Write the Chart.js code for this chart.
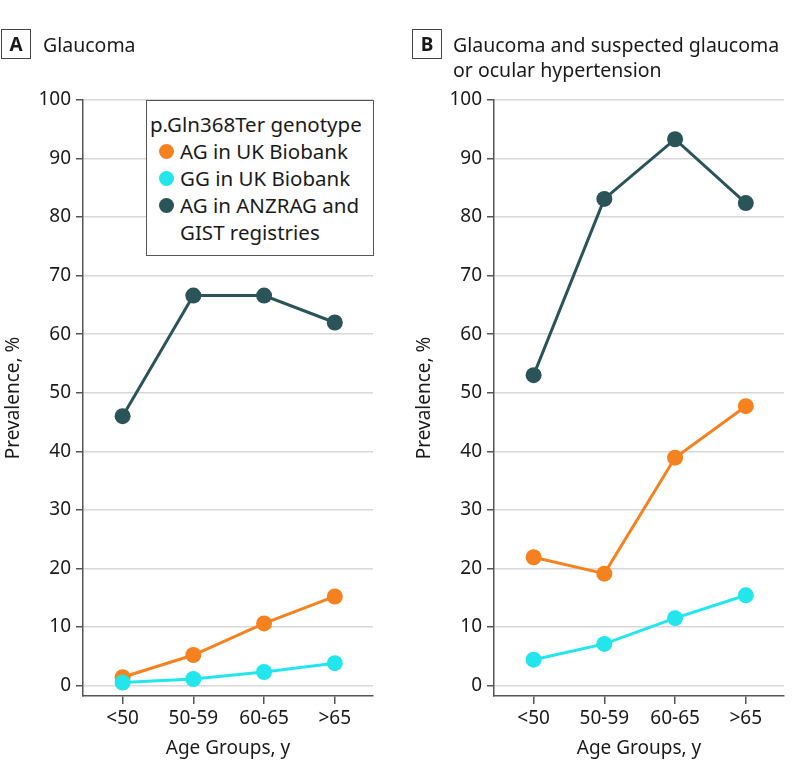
<!DOCTYPE html>
<html>
<head>
<meta charset="utf-8">
<script src="https://cdn.jsdelivr.net/npm/chart.js@4/dist/chart.umd.min.js"></script>
<style>
  body { margin: 0; background: #fff; font-family: 'Noto Sans', sans-serif; color: #1a1a1a; }
  #wrap { position: relative; width: 794px; height: 780px; }
  canvas { position: absolute; top: 0; }
  .tag { position: absolute; top: 29px; width: 28px; height: 28px; border: 1.5px solid #444;
         font-weight: bold; font-size: 19px; line-height: 28px; text-align: center; }
  .ttl { position: absolute; top: 32px; font-size: 19.5px; line-height: 25px; }
  #legend { position: absolute; left: 146px; top: 100px; width: 228px; height: 156px;
            border: 1.5px solid #555; background: #fff; font-size: 20.5px; line-height: 27px;
            padding: 10px 0 0 0; box-sizing: border-box; }
  #legend .hd { padding-left: 3px; }
  #legend .it { position: relative; padding-left: 33px; }
  #legend .it span { position: absolute; left: 12px; top: 6px; width: 15px; height: 15px; border-radius: 50%; }
</style>
</head>
<body>
<div id="wrap">
  <canvas id="cA" width="397" height="780" style="left:0"></canvas>
  <canvas id="cB" width="397" height="780" style="left:397px"></canvas>
  <div class="tag" style="left:1px">A</div>
  <div class="ttl" style="left:43px">Glaucoma</div>
  <div class="tag" style="left:412px">B</div>
  <div class="ttl" style="left:453px">Glaucoma and suspected glaucoma<br>or ocular hypertension</div>
  <div id="legend"></div>
</div>
<script>
// categories & ticks
const categories = ['<50', '50-59', '60-65', '>65'];
const yTicks = [0, 10, 20, 30, 40, 50, 60, 70, 80, 90, 100];

// series: p.Gln368Ter genotype
const seriesNames = ['AG in UK Biobank', 'GG in UK Biobank', 'AG in ANZRAG and GIST registries'];
const seriesColors = ['#F6821F', '#22E6EC', '#2B5459'];

// Panel A – Glaucoma
const glaucomaAgUk = [1.4, 5.2, 10.6, 15.2];
const glaucomaGgUk = [0.5, 1.1, 2.3, 3.8];
const glaucomaAgAnz = [46.0, 66.6, 66.6, 62.0];

// Panel B – Glaucoma and suspected glaucoma or ocular hypertension
const suspectAgUk = [21.9, 19.1, 38.9, 47.7];
const suspectGgUk = [4.4, 7.1, 11.5, 15.4];
const suspectAgAnz = [53.0, 83.1, 93.3, 82.4];

const FONT = "'Noto Sans', sans-serif";
const dark = '#555';

// legend (html)
const lg = document.getElementById('legend');
lg.innerHTML = '<div class="hd">p.Gln368Ter genotype</div>' + seriesNames.map((n, i) => {
    const txt = i === 2 ? 'AG in ANZRAG and<br>GIST registries' : n;
    return `<div class="it"><span style="background:${seriesColors[i]}"></span>${txt}</div>`;
}).join('');

function ds(vals, i) {
    return {
        label: seriesNames[i],
        data: vals.map((v, k) => ({ x: k, y: v })),
        borderColor: seriesColors[i],
        backgroundColor: seriesColors[i],
        borderWidth: 3,
        pointRadius: 8,
        pointHoverRadius: 8,
        pointBorderWidth: 0,
        order: [1, 0, 2][i],
    };
}

function build(id, sets, padL, axisW, padR) {
    return new Chart(document.getElementById(id), {
        type: 'line',
        data: { datasets: sets.map((s, i) => ds(s, i)) },
        options: {
            responsive: false,
            animation: false,
            layout: { padding: { top: 100, left: padL, right: padR, bottom: 0 } },
            plugins: { legend: { display: false }, tooltip: { enabled: false } },
            scales: {
                x: {
                    type: 'linear',
                    min: -0.56, max: 3.54,
                    afterBuildTicks: s => { s.ticks = categories.map((c, k) => ({ value: k })); },
                    afterFit: s => { s.height = 84; },
                    border: { display: true, color: dark, width: 1.5 },
                    grid: { drawOnChartArea: false, drawTicks: true, tickLength: 8, tickColor: dark, lineWidth: 1.5 },
                    ticks: { color: '#1a1a1a', font: { family: FONT, size: 19 }, padding: 3, maxRotation: 0,
                             callback: v => categories[v] },
                    title: { display: true, text: 'Age Groups, y', color: '#1a1a1a',
                             font: { family: FONT, size: 19 }, padding: { top: 0, bottom: 20 } },
                },
                y: {
                    min: -1.8, max: 100,
                    afterBuildTicks: s => { s.ticks = yTicks.map(v => ({ value: v })); },
                    afterFit: s => { s.width = axisW; },
                    border: { display: true, color: dark, width: 1.5 },
                    grid: { color: '#d8d8d8', lineWidth: 1.5, drawTicks: true, tickLength: 7, tickColor: dark },
                    ticks: { color: '#1a1a1a', font: { family: FONT, size: 19 }, padding: 5 },
                    title: { display: true, text: 'Prevalence, %', color: '#1a1a1a',
                             font: { family: FONT, size: 19 }, padding: { top: 2, bottom: 0 } },
                },
            },
        },
    });
}

build('cA', [glaucomaAgUk, glaucomaGgUk, glaucomaAgAnz], 0, 83, 24);
build('cB', [suspectAgUk, suspectGgUk, suspectAgAnz], 14, 83, 10);
</script>
</body>
</html>
